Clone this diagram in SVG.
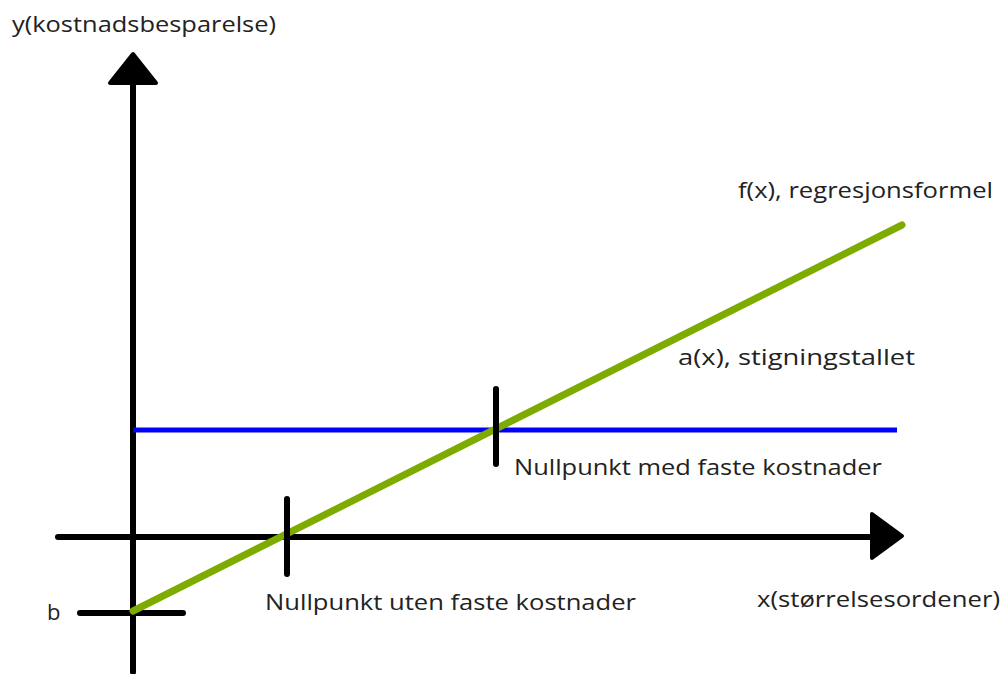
<svg xmlns="http://www.w3.org/2000/svg" width="1003" height="674" viewBox="0 0 1003 674">
<style>
text{font-family:"Open Sans","Liberation Sans",sans-serif;font-size:22px;fill:#222}
.ax{stroke:#000;stroke-width:6;stroke-linecap:round;fill:none}
</style>
<rect width="1003" height="674" fill="#fff"/>
<g id="connectors">
<line id="yaxis" class="ax" x1="133" y1="672" x2="133" y2="80"/>
<polygon points="133,54 110,83 156,83" fill="#000" stroke="#000" stroke-width="4" stroke-linejoin="round"/>
<line id="xaxis" class="ax" x1="58" y1="537" x2="875" y2="537"/>
<polygon points="902,536 872,514 872,558" fill="#000" stroke="#000" stroke-width="4" stroke-linejoin="round"/>
<line id="btick" class="ax" x1="80" y1="613" x2="183" y2="613"/>
<line id="blue" x1="133" y1="430" x2="897" y2="430" stroke="#0000ff" stroke-width="5"/>
<line id="green" x1="133" y1="611" x2="902" y2="225" stroke="#7dab00" stroke-width="7" stroke-linecap="round"/>
<line id="tick1" class="ax" x1="287" y1="499" x2="287" y2="574"/>
<line id="tick2" class="ax" x1="496" y1="389" x2="496" y2="464"/>
</g>
<g id="label-y"><text x="12" y="32" textLength="264" lengthAdjust="spacingAndGlyphs">y(kostnadsbesparelse)</text></g>
<g id="label-f"><text x="738" y="198" textLength="255" lengthAdjust="spacingAndGlyphs">f(x), regresjonsformel</text></g>
<g id="label-a"><text x="678" y="365" textLength="237" lengthAdjust="spacingAndGlyphs">a(x), stigningstallet</text></g>
<g id="label-n1"><text x="514" y="475" textLength="368" lengthAdjust="spacingAndGlyphs">Nullpunkt med faste kostnader</text></g>
<g id="label-n2"><text x="265" y="610" textLength="371" lengthAdjust="spacingAndGlyphs">Nullpunkt uten faste kostnader</text></g>
<g id="label-x"><text x="757" y="607" textLength="243" lengthAdjust="spacingAndGlyphs">x(størrelsesordener)</text></g>
<g id="label-b"><text x="47" y="620">b</text></g>
</svg>
